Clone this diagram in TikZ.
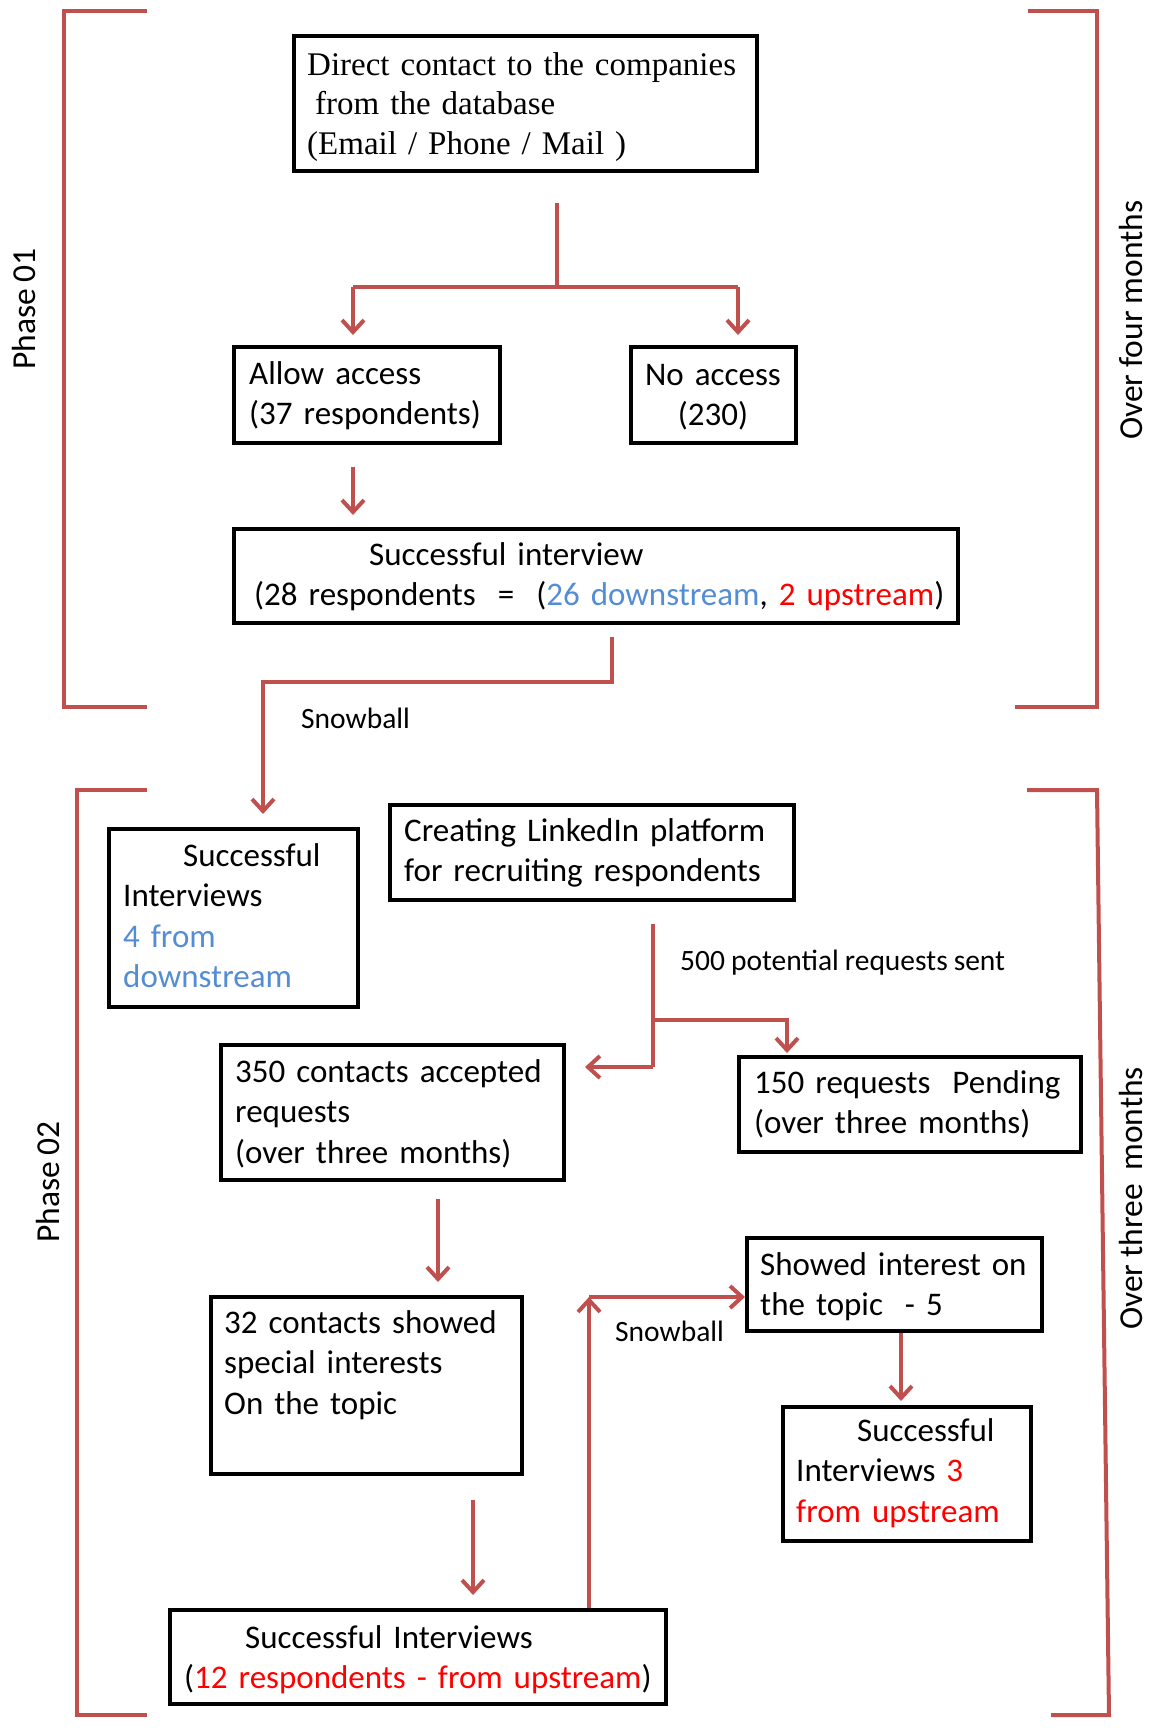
\documentclass[tikz,border=0pt]{standalone}
\usepackage{fontspec}
\setmainfont{Carlito}[WordSpace=0.9]
\newfontfamily\timesfont{Liberation Serif}
\usetikzlibrary{arrows.meta,calc}

\definecolor{linkred}{HTML}{C0504D}
\definecolor{dsblue}{HTML}{548DD4}
\definecolor{upred}{HTML}{FF0000}

\begin{document}
\begin{tikzpicture}[x=1pt,y=-1pt,
  box/.style={draw=black,line width=4pt,inner sep=0pt,anchor=north west},
  txt/.style={inner sep=0pt,anchor=base west,align=left,text width=900pt,
    font=\fontsize{33}{40.5}\selectfont},
  serif/.style={inner sep=0pt,anchor=base west,align=left,text width=900pt,
    font=\timesfont\fontsize{33}{39.5}\selectfont},
  small/.style={inner sep=0pt,anchor=base west,font=\fontsize{29.5}{36}\selectfont},
  side/.style={inner sep=0pt,anchor=base west,rotate=90,font=\fontsize{33.5}{40}\selectfont},
  link/.style={draw=linkred,line width=4pt},
  bracket/.style={draw=linkred,line width=4pt,line join=miter},
  ->/.style={-{Straight Barb[length=12pt,width=22pt]}}
]
\useasboundingbox (0,0) rectangle (1153,1730);

% ---- phase brackets ----
\draw[bracket] (147,11) -- (64,11) -- (64,707) -- (147,707);
\draw[bracket] (1028,11) -- (1097,11) -- (1097,707) -- (1015,707);
\draw[bracket] (147,790) -- (77,790) -- (77,1715) -- (147,1715);
\draw[bracket] (1027,790) -- (1097,790) -- (1109,1715) -- (1051,1715);

\node[side] (ph1) at (35,370) {Phase 01};
\node[side] (ph2) at (59,1243) {Phase 02};
\node[side] (dur1) at (1142,440) {Over four months};
\node[side] (dur2) at (1142,1330) {Over three\ \ months};

% ---- boxes ----
\node[box,minimum width=463pt,minimum height=135pt] (top) at (292,34) {};
\node[box,minimum width=266pt,minimum height=96pt] (allow) at (232,345) {};
\node[box,minimum width=165pt,minimum height=96pt] (noacc) at (629,345) {};
\node[box,minimum width=724pt,minimum height=94pt] (succ) at (232,527) {};
\node[box,minimum width=249pt,minimum height=178pt] (si4) at (107,827) {};
\node[box,minimum width=404pt,minimum height=95pt] (linked) at (388,803) {};
\node[box,minimum width=343pt,minimum height=135pt] (c350) at (219,1043) {};
\node[box,minimum width=342pt,minimum height=95pt] (p150) at (737,1055) {};
\node[box,minimum width=311pt,minimum height=177pt] (c32) at (209,1295) {};
\node[box,minimum width=295pt,minimum height=93pt] (show) at (745,1236) {};
\node[box,minimum width=248pt,minimum height=134pt] (si3) at (781,1405) {};
\node[box,minimum width=496pt,minimum height=94pt] (si12) at (168,1608) {};

% ---- box texts ----
\node[serif] (top-t) at (307,75)
  {Direct contact to the companies\\\hspace*{8pt}from the database\\(Email / Phone / Mail )};
\node[txt] (allow-t) at (249,384) {Allow access\\(37 respondents)};
\node[txt,anchor=base,align=center,text width=160pt] (noacc-t) at (713,385) {No access\\(230)};
\node[txt] (succ-t) at (254,565)
  {\hspace*{115pt}Successful interview\\(28 respondents\ \ =\ \ (\textcolor{dsblue}{26 downstream}, \textcolor{upred}{2 upstream})};
\node[txt] (si4-t) at (123,866)
  {\hspace*{60pt}Successful\\Interviews\\\textcolor{dsblue}{4 from}\\\textcolor{dsblue}{downstream}};
\node[txt] (linked-t) at (404,841) {Creating LinkedIn platform\\for recruiting respondents};
\node[txt] (c350-t) at (235,1082) {350 contacts accepted\\requests\\(over three months)};
\node[txt] (p150-t) at (754,1093) {150 requests\ \ Pending\\(over three months)};
\node[txt] (c32-t) at (224,1333) {32 contacts showed\\special interests\\On the topic};
\node[txt] (show-t) at (760,1275) {Showed interest on\\the topic\ \ - 5};
\node[txt] (si3-t) at (796,1441)
  {\hspace*{61pt}Successful\\Interviews \textcolor{upred}{3}\\\textcolor{upred}{from upstream}};
\node[txt] (si12-t) at (184,1648)
  {\hspace*{61pt}Successful Interviews\\(\textcolor{upred}{12 respondents - from upstream})};

% ---- connectors ----
\coordinate (trunk) at (557,203);
\coordinate (fork) at (557,287);
\coordinate (forkL) at (353,287);
\coordinate (forkR) at (738,287);
\draw[link] (trunk) -- (fork);
\draw[link] (forkL) -- (forkR);
\draw[link,->] (forkL) -- ($(forkL |- allow.north)+(0,-10)$);
\draw[link,->] (forkR) -- ($(forkR |- noacc.north)+(0,-10)$);

\coordinate (a1) at (353,467);
\draw[link,->] (a1) -- ($(a1 |- succ.north)+(0,-12)$);

\coordinate (s1) at (612,637);
\coordinate (s1b) at (263,682);
\draw[link,->] (s1) |- (s1b) -- ($(s1b |- si4.north)+(0,-13)$);
\node[small] (snow1) at (301,728) {Snowball};

\coordinate (r0) at (653,924);
\coordinate (r1) at (653,1020);
\coordinate (r2) at (787,1020);
\coordinate (r3) at (653,1067);
\draw[link] (r0) -- (r3);
\draw[link,->] (r1) -- (r2) -- ($(r2 |- p150.north)+(0,-2)$);
\draw[link,->] (r3) -- ($(r3 -| c350.east)+(19,0)$);
\node[small] (req500) at (680,970) {500 potential requests sent};

\coordinate (b1) at (438,1199);
\draw[link,->] (b1) -- ($(b1 |- c32.north)+(0,-13)$);

\coordinate (b2) at (473,1500);
\draw[link,->] (b2) -- ($(b2 |- si12.north)+(0,-13)$);

\coordinate (sb) at (589,1297);
\draw[link,->] (sb |- si12.north) -- (sb);
\draw[link,->] (sb) -- (sb -| show.west);
\node[small] (snow2) at (615,1341) {Snowball};

\coordinate (b3) at (901,1334);
\draw[link,->] (show.south -| b3) -- ($(b3 |- si3.north)+(0,-4)$);
\end{tikzpicture}
\end{document}
